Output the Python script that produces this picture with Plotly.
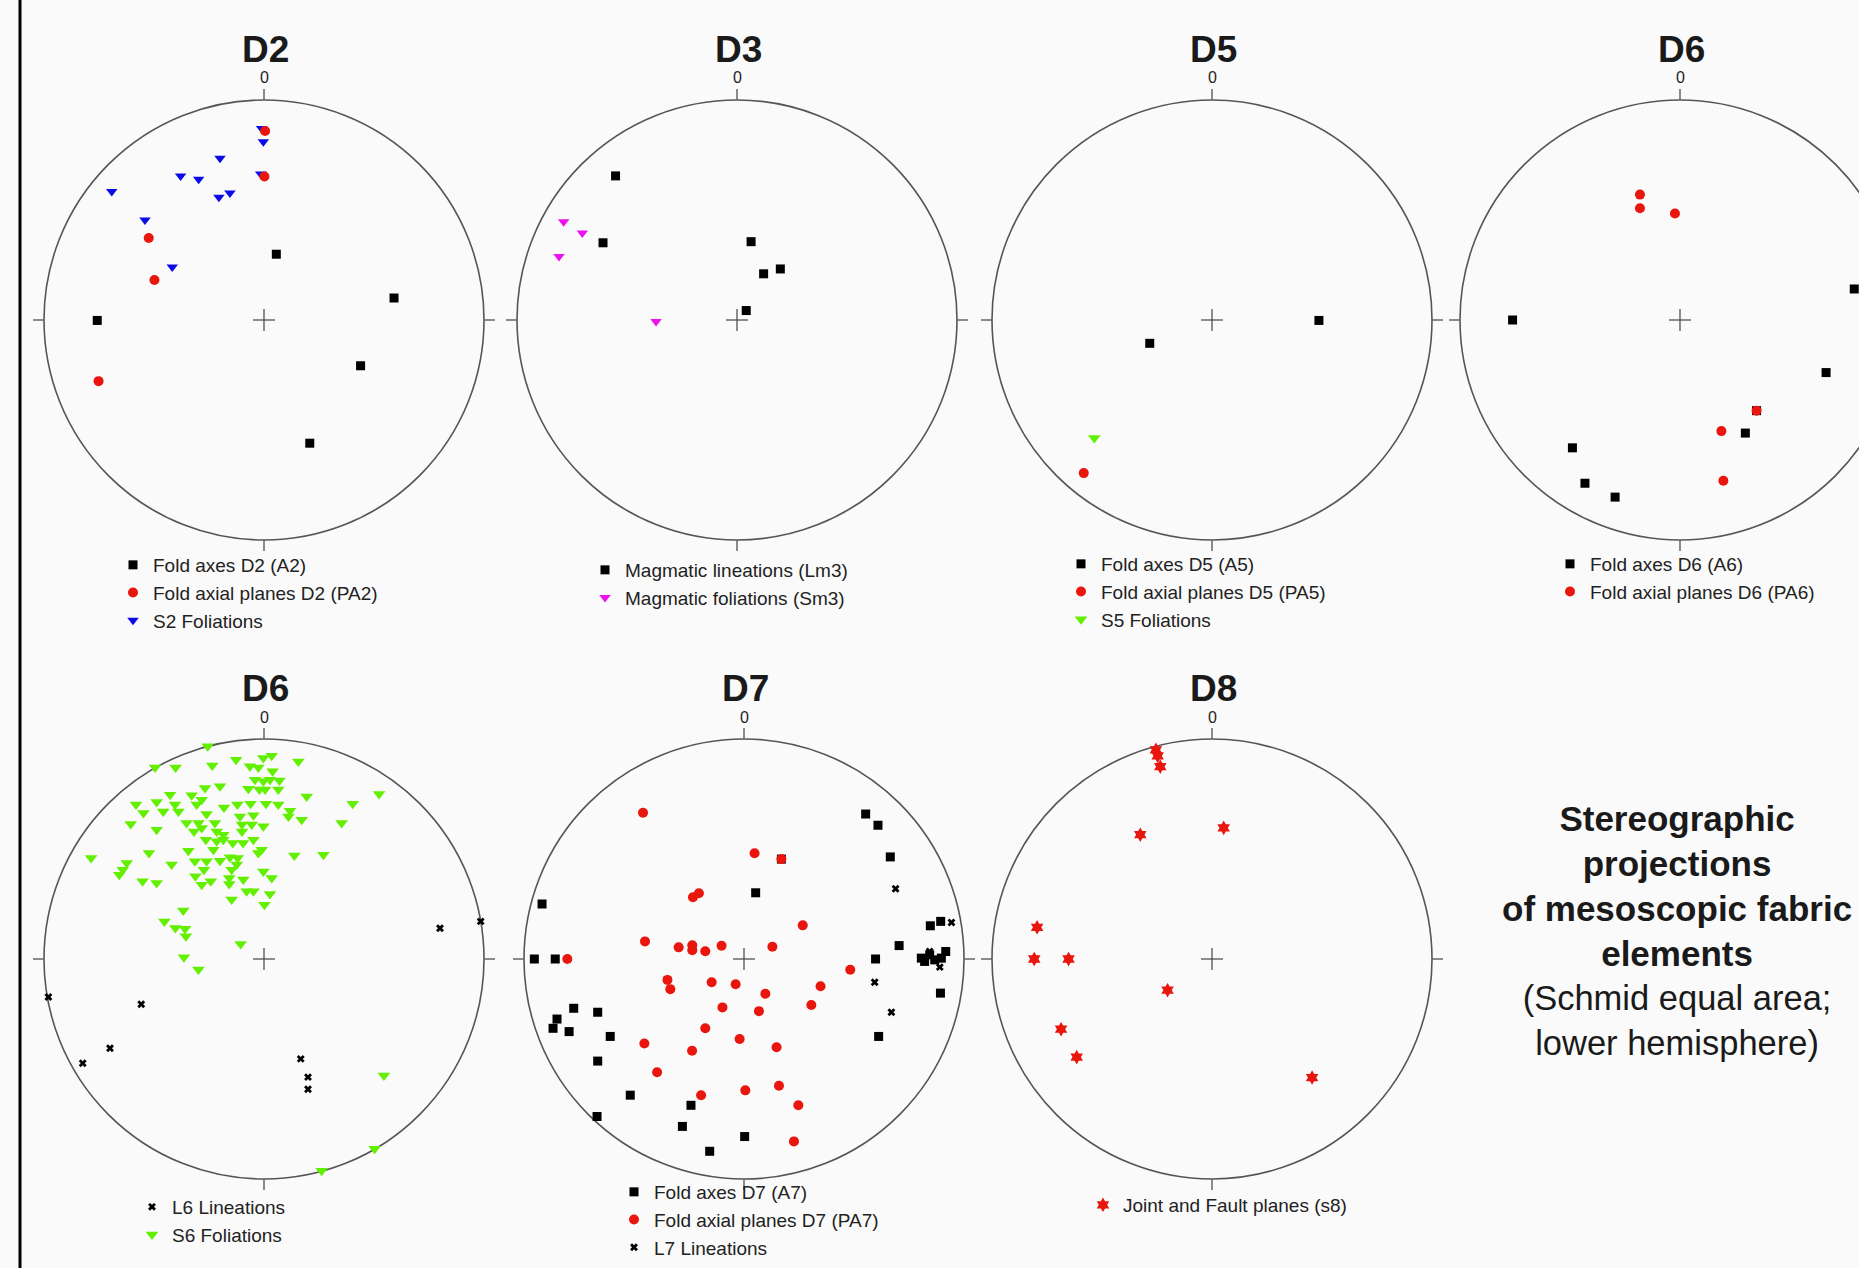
import plotly.graph_objects as go

# ---------------- data: projected points, unit-circle coords (east, north) ----------------
# D2
D2_FOLD_AXES = [(0.056, 0.299), (0.591, 0.100), (-0.758, -0.002), (0.439, -0.208), (0.208, -0.560)]
D2_AXIAL_PLANES = [(0.005, 0.859), (0.002, 0.652), (-0.524, 0.373), (-0.498, 0.182), (-0.752, -0.278)]
D2_S2_FOLIATIONS = [(-0.011, 0.871), (-0.003, 0.810), (-0.200, 0.735), (-0.379, 0.655), (-0.297, 0.640),
                    (-0.692, 0.584), (-0.205, 0.558), (-0.155, 0.577), (-0.541, 0.455), (-0.417, 0.241),
                    (-0.015, 0.664)]
# D3
D3_LM3 = [(-0.552, 0.655), (-0.609, 0.351), (0.064, 0.356), (0.121, 0.210), (0.197, 0.232), (0.042, 0.043)]
D3_SM3 = [(-0.788, 0.447), (-0.703, 0.395), (-0.809, 0.289), (-0.368, -0.007)]
# D5
D5_FOLD_AXES = [(-0.283, -0.106), (0.486, -0.002)]
D5_AXIAL_PLANES = [(-0.583, -0.696)]
D5_S5_FOLIATIONS = [(-0.535, -0.536)]
# D6 (top row)
D6_FOLD_AXES = [(-0.761, 0.000), (0.792, 0.141), (0.664, -0.239), (0.297, -0.514), (-0.489, -0.581),
                (-0.432, -0.742), (-0.295, -0.805), (0.348, -0.412)]
D6_AXIAL_PLANES = [(-0.182, 0.570), (-0.182, 0.508), (-0.023, 0.484), (0.348, -0.412), (0.188, -0.505),
                   (0.197, -0.731)]
# D6 (bottom row)
D6_L6_LINEATIONS = [(0.800, 0.140), (0.985, 0.171), (-0.980, -0.173), (-0.558, -0.206), (-0.700, -0.406),
                    (-0.824, -0.474), (0.167, -0.454), (0.200, -0.537), (0.200, -0.592)]
D6_S6_FOLIATIONS = [
    (-0.256, 0.967), (-0.495, 0.871), (-0.402, 0.871), (-0.235, 0.880), (-0.127, 0.906), (-0.003, 0.914),
    (0.035, 0.924), (0.156, 0.898), (-0.064, 0.876), (-0.026, 0.871), (0.039, 0.853), (-0.041, 0.815),
    (-0.003, 0.808), (0.027, 0.815), (0.070, 0.811), (-0.071, 0.774), (-0.021, 0.770), (0.005, 0.770),
    (0.065, 0.770), (-0.200, 0.785), (-0.268, 0.777), (-0.427, 0.747), (-0.329, 0.744), (-0.283, 0.724),
    (-0.306, 0.702), (0.194, 0.739), (0.523, 0.750), (0.403, 0.706), (-0.582, 0.702), (-0.488, 0.714),
    (-0.458, 0.671), (-0.405, 0.702), (-0.389, 0.671), (-0.548, 0.664), (-0.182, 0.689), (-0.121, 0.702),
    (-0.061, 0.706), (0.009, 0.706), (0.065, 0.702), (0.118, 0.674), (0.111, 0.648), (0.171, 0.633),
    (0.353, 0.618), (-0.261, 0.659), (-0.352, 0.618), (-0.298, 0.618), (-0.109, 0.648), (-0.048, 0.653),
    (-0.100, 0.611), (-0.056, 0.611), (-0.003, 0.603), (-0.606, 0.614), (-0.488, 0.588), (-0.318, 0.580),
    (-0.283, 0.595), (-0.223, 0.618), (-0.215, 0.580), (-0.185, 0.565), (-0.100, 0.580), (-0.264, 0.542),
    (-0.215, 0.535), (-0.185, 0.542), (-0.142, 0.527), (-0.095, 0.527), (-0.048, 0.542), (-0.230, 0.497),
    (-0.344, 0.492), (-0.011, 0.497), (-0.026, 0.482), (-0.523, 0.482), (-0.786, 0.459), (-0.624, 0.436),
    (-0.642, 0.406), (-0.658, 0.383), (-0.420, 0.429), (-0.314, 0.444), (-0.261, 0.444), (-0.200, 0.447),
    (-0.155, 0.462), (-0.120, 0.459), (-0.124, 0.429), (0.138, 0.470), (0.270, 0.474), (-0.273, 0.406),
    (-0.312, 0.376), (-0.147, 0.406), (-0.158, 0.368), (-0.003, 0.398), (0.035, 0.368), (-0.552, 0.353),
    (-0.488, 0.345), (-0.283, 0.338), (-0.242, 0.353), (-0.158, 0.341), (-0.094, 0.361), (-0.079, 0.308),
    (-0.048, 0.308), (0.027, 0.295), (-0.147, 0.270), (0.002, 0.247), (-0.367, 0.220), (-0.453, 0.171),
    (-0.403, 0.141), (-0.359, 0.138), (-0.355, 0.103), (-0.106, 0.068), (-0.364, 0.008), (-0.298, -0.048),
    (0.545, -0.530), (0.503, -0.862), (0.262, -0.962)]
# D7
D7_FOLD_AXES = [
    (0.553, 0.659), (0.609, 0.608), (0.665, 0.464), (0.053, 0.301), (0.170, 0.454), (-0.918, 0.250),
    (-0.953, 0.000), (-0.858, 0.000), (0.598, 0.000), (0.705, 0.061), (0.847, 0.151), (0.894, 0.171),
    (0.917, 0.034), (0.806, 0.004), (0.821, -0.011), (0.844, 0.019), (0.867, -0.004), (0.897, 0.004),
    (0.893, -0.155), (0.612, -0.352), (-0.774, -0.224), (-0.850, -0.273), (-0.868, -0.315), (-0.795, -0.330),
    (-0.665, -0.242), (-0.608, -0.352), (-0.665, -0.464), (-0.517, -0.619), (-0.241, -0.665), (-0.668, -0.716),
    (-0.280, -0.761), (0.003, -0.807), (-0.156, -0.874)]
D7_AXIAL_PLANES = [
    (-0.459, 0.665), (0.048, 0.481), (0.170, 0.454), (-0.232, 0.281), (-0.205, 0.299), (0.267, 0.153),
    (-0.450, 0.080), (-0.297, 0.053), (-0.235, 0.062), (-0.235, 0.040), (-0.176, 0.035), (-0.102, 0.060),
    (0.129, 0.056), (-0.803, 0.000), (0.483, -0.049), (-0.348, -0.095), (-0.335, -0.137), (-0.147, -0.106),
    (-0.038, -0.115), (0.097, -0.158), (0.348, -0.124), (0.306, -0.209), (-0.098, -0.220), (0.068, -0.237),
    (-0.176, -0.315), (-0.020, -0.364), (-0.453, -0.384), (-0.236, -0.417), (0.148, -0.401), (-0.395, -0.515),
    (-0.195, -0.619), (0.006, -0.597), (0.159, -0.576), (0.247, -0.665), (0.227, -0.829)]
D7_L7_LINEATIONS = [(0.689, 0.319), (0.943, 0.166), (0.594, -0.106), (0.670, -0.242), (0.844, 0.034),
                    (0.890, -0.037)]
# D8
D8_JOINTS_FAULTS = [(-0.255, 0.951), (-0.247, 0.923), (-0.235, 0.874), (0.053, 0.596), (-0.326, 0.565),
                    (-0.795, 0.144), (-0.808, 0.000), (-0.652, 0.000), (-0.202, -0.142), (-0.686, -0.319),
                    (-0.615, -0.446), (0.455, -0.539)]

PANEL_TITLES = ["D2", "D3", "D5", "D6", "D6", "D7", "D8"]
NORTH_LABEL = "0"
SIDE_TEXT = ("<span style='font-size:35px'><b>Stereographic<br>projections<br>of mesoscopic fabric<br>"
             "elements</b></span><br>(Schmid equal area;<br>lower hemisphere)")

# ---------------- styles ----------------
FONT = "Liberation Sans, Arial, Helvetica, sans-serif"
RED = "#e8160c"
SQ = dict(symbol="square", color="black", size=9)
RC = dict(symbol="circle", color=RED, size=10)
BT = dict(symbol="triangle-down", color="#0a0ae6", size=10)
MT = dict(symbol="triangle-down", color="#ee11ee", size=10)
GT = dict(symbol="triangle-down", color="#62f000", size=11)
XK = dict(symbol="x", color="black", size=7)
HX = dict(symbol="hexagram", color=RED, size=11)

W, H = 1859, 1268        # figure size in px
R = 220.0                # circle radius in px
RNG = 1.2                # half axis range (in radius units)

# each panel: centre (px), series [(name, points, style, legendrank)] in draw order,
# legend text start x (px) and first legend row centre y (px)
# (all legends kept fully inside the figure so Plotly does not push the margins)
panels = [
    dict(cx=264, cy=320, lx=153, ly=565, series=[
        ("Fold axes D2 (A2)", D2_FOLD_AXES, SQ, 1),
        ("S2 Foliations", D2_S2_FOLIATIONS, BT, 3),
        ("Fold axial planes D2 (PA2)", D2_AXIAL_PLANES, RC, 2)]),
    dict(cx=737, cy=320, lx=625, ly=570, series=[
        ("Magmatic lineations (Lm3)", D3_LM3, SQ, 1),
        ("Magmatic foliations (Sm3)", D3_SM3, MT, 2)]),
    dict(cx=1212, cy=320, lx=1101, ly=564, series=[
        ("Fold axes D5 (A5)", D5_FOLD_AXES, SQ, 1),
        ("Fold axial planes D5 (PA5)", D5_AXIAL_PLANES, RC, 2),
        ("S5 Foliations", D5_S5_FOLIATIONS, GT, 3)]),
    dict(cx=1680, cy=320, lx=1590, ly=564, series=[
        ("Fold axes D6 (A6)", D6_FOLD_AXES, SQ, 1),
        ("Fold axial planes D6 (PA6)", D6_AXIAL_PLANES, RC, 2)]),
    dict(cx=264, cy=959, lx=172, ly=1207, series=[
        ("L6 Lineations", D6_L6_LINEATIONS, XK, 1),
        ("S6 Foliations", D6_S6_FOLIATIONS, GT, 2)]),
    dict(cx=744, cy=959, lx=654, ly=1192, series=[
        ("Fold axes D7 (A7)", D7_FOLD_AXES, SQ, 1),
        ("Fold axial planes D7 (PA7)", D7_AXIAL_PLANES, RC, 2),
        ("L7 Lineations", D7_L7_LINEATIONS, XK, 3)]),
    dict(cx=1212, cy=959, lx=1123, ly=1205, series=[
        ("Joint and Fault planes (s8)", D8_JOINTS_FAULTS, HX, 1)]),
]


def px_x(px):
    return px / W


def px_y(py):
    return 1 - py / H


fig = go.Figure()
layout = {}
shapes = []
annotations = []
CIRCLE_COL = "#555555"

for i, p in enumerate(panels, start=1):
    sfx = "" if i == 1 else str(i)
    xa, ya, lg = "x" + sfx, "y" + sfx, "legend" + sfx
    cx, cy = p["cx"], p["cy"]
    lo_px, hi_px = max(0.0, cx - RNG * R), min(float(W), cx + RNG * R)
    layout["xaxis" + sfx] = dict(domain=[px_x(lo_px), px_x(hi_px)],
                                 range=[(lo_px - cx) / R, (hi_px - cx) / R],
                                 visible=False, fixedrange=True, anchor=ya)
    layout["yaxis" + sfx] = dict(domain=[px_y(cy + RNG * R), px_y(cy - RNG * R)],
                                 range=[-RNG, RNG], visible=False, fixedrange=True, anchor=xa)

    for name, pts, st, rank in p["series"]:
        fig.add_trace(go.Scatter(
            x=[q[0] for q in pts], y=[q[1] for q in pts], mode="markers", name=name,
            xaxis=xa, yaxis=ya, legend=lg, legendrank=rank,
            marker=dict(symbol=st["symbol"], color=st["color"], size=st["size"], line=dict(width=0)),
            hoverinfo="skip"))

    # primitive circle, cardinal ticks, centre cross
    shapes.append(dict(type="circle", xref=xa, yref=ya, x0=-1, x1=1, y0=-1, y1=1,
                       line=dict(color=CIRCLE_COL, width=1.6), layer="below"))
    for (x0, y0, x1, y1) in [(0, 1, 0, 1.05), (0, -1, 0, -1.05), (1, 0, 1.05, 0), (-1, 0, -1.05, 0)]:
        shapes.append(dict(type="line", xref=xa, yref=ya, x0=x0, y0=y0, x1=x1, y1=y1,
                           line=dict(color="#666666", width=1.5), layer="below"))
    for (x0, y0, x1, y1) in [(-0.05, 0, 0.05, 0), (0, -0.05, 0, 0.05)]:
        shapes.append(dict(type="line", xref=xa, yref=ya, x0=x0, y0=y0, x1=x1, y1=y1,
                           line=dict(color="#444444", width=1.2), layer="below"))

    # title and north label
    annotations.append(dict(x=px_x(cx + 1), y=px_y(cy - 270), xref="paper", yref="paper",
                            text="<b>" + PANEL_TITLES[i - 1] + "</b>", showarrow=False,
                            xanchor="center", yanchor="middle",
                            font=dict(family=FONT, size=37, color="#1a1a1a")))
    annotations.append(dict(x=px_x(cx), y=px_y(cy - 242), xref="paper", yref="paper",
                            text=NORTH_LABEL, showarrow=False, xanchor="center", yanchor="middle",
                            font=dict(family=FONT, size=16, color="#222222")))

    layout[lg] = dict(x=px_x(p["lx"] - 40), y=px_y(p["ly"] - 19), xanchor="left", yanchor="top",
                      bgcolor="rgba(0,0,0,0)", borderwidth=0, traceorder="normal",
                      font=dict(family=FONT, size=19, color="#222222"), tracegroupgap=0)

annotations.append(dict(x=px_x(1677), y=px_y(930), xref="paper", yref="paper", text=SIDE_TEXT,
                        showarrow=False, xanchor="center", yanchor="middle", align="center",
                        font=dict(family=FONT, size=34.5, color="#1a1a1a")))

# left frame line
shapes.append(dict(type="line", xref="paper", yref="paper", x0=px_x(20), x1=px_x(20), y0=0, y1=1,
                   line=dict(color="black", width=3)))

fig.update_layout(width=W, height=H, margin=dict(l=0, r=0, t=0, b=0, autoexpand=False),
                  paper_bgcolor="#fafafa", plot_bgcolor="rgba(0,0,0,0)",
                  showlegend=True, shapes=shapes, annotations=annotations, **layout)

PAGE_CSS = ("var d=document.documentElement,b=document.body;"
            "d.style.margin='0';d.style.padding='0';d.style.overflow='hidden';d.style.background='#fafafa';"
            "b.style.margin='0';b.style.padding='0';b.style.overflow='hidden';b.style.background='#fafafa';")

fig.write_html("out.html", config={"displayModeBar": False}, post_script=PAGE_CSS)
